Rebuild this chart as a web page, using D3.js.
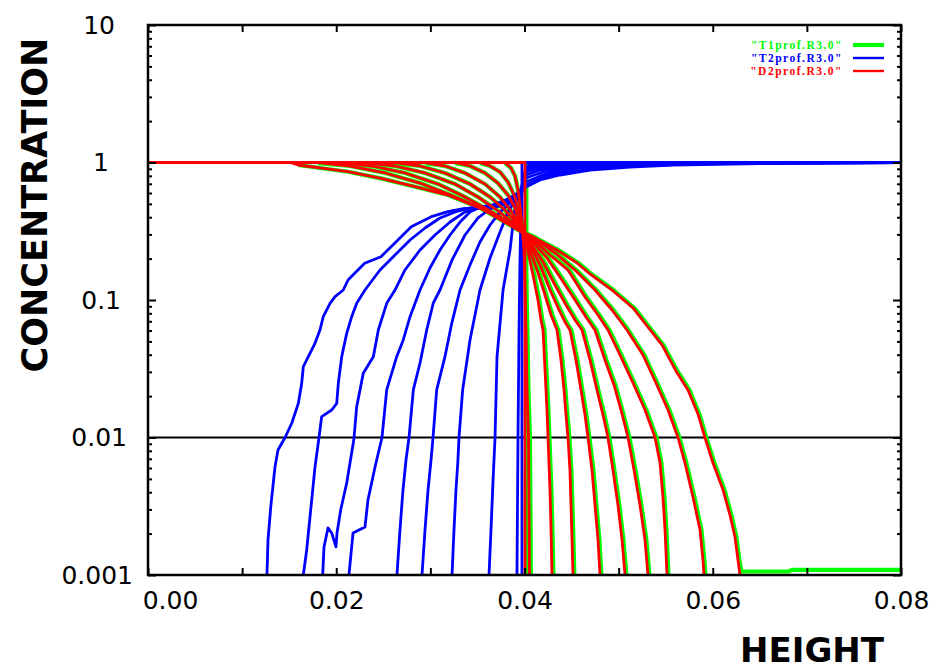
<!DOCTYPE html>
<html><head><meta charset="utf-8">
<script src="https://cdn.jsdelivr.net/npm/d3@7"></script>
<style>body{margin:0;background:#fff}svg{display:block}</style>
</head><body><svg id="c" width="945" height="666"></svg>
<script>
const heightTicks = [0, 0.02, 0.04, 0.06, 0.08];
const heightMinorTicks = [0.01, 0.03, 0.05, 0.07];
const concTicks = [0.001, 0.01, 0.1, 1, 10];
const concTickLabels = ["0.001", "0.01", "0.1", "1", "10"];
const referenceLevel = 0.01;
const seriesNames = ['"T1prof.R3.0"', '"T2prof.R3.0"', '"D2prof.R3.0"'];

// T2 (blue) profiles
const t2Profiles = [
[[0.03973,0.001],[0.03973,1],[0.08,1]],
[[0.01264,0.001],[0.01275,0.0018],[0.01304,0.00312],[0.01349,0.0061],[0.01381,0.00811],[0.01456,0.01],[0.01527,0.01269],[0.01597,0.0177],[0.01633,0.0248],[0.0165,0.0327],[0.01703,0.0387],[0.01774,0.0484],[0.01827,0.0605],[0.01862,0.0756],[0.01934,0.0946],[0.01987,0.1057],[0.02075,0.1182],[0.02125,0.1398],[0.02302,0.1849],[0.02475,0.2065],[0.02621,0.2585],[0.02797,0.3413],[0.0301,0.4035],[0.03187,0.4386],[0.03365,0.4643],[0.03506,0.4643],[0.03687,0.491],[0.03846,0.552],[0.03963,0.62],[0.04016,0.663],[0.04165,0.746],[0.04377,0.811],[0.04696,0.882],[0.05121,0.927],[0.05578,0.959],[0.06502,0.983],[0.08,1]],
[[0.0165,0.001],[0.01686,0.00152],[0.01739,0.00351],[0.01774,0.0061],[0.01817,0.01],[0.01845,0.01417],[0.01952,0.01585],[0.02005,0.0177],[0.02022,0.0248],[0.02058,0.0387],[0.02111,0.0572],[0.02164,0.0756],[0.02217,0.0946],[0.02305,0.1182],[0.02465,0.1653],[0.02624,0.2125],[0.02784,0.273],[0.02943,0.334],[0.03102,0.395],[0.03262,0.437],[0.03421,0.467],[0.03634,0.483],[0.03825,0.543],[0.03963,0.61],[0.04016,0.686],[0.04165,0.771],[0.04377,0.839],[0.04696,0.897],[0.05121,0.943],[0.05578,0.967],[0.06502,1],[0.08,1]],
[[0.01856,0.001],[0.0187,0.0016],[0.01912,0.0022],[0.01952,0.00202],[0.01997,0.0016],[0.02008,0.00202],[0.02047,0.00297],[0.02111,0.00467],[0.02181,0.00912],[0.02189,0.01],[0.02217,0.0167],[0.02287,0.0293],[0.02394,0.0387],[0.02447,0.0605],[0.02536,0.0946],[0.02624,0.1182],[0.0273,0.1653],[0.0289,0.231],[0.03049,0.297],[0.03209,0.369],[0.03368,0.437],[0.03527,0.467],[0.0374,0.483],[0.03867,0.543],[0.03963,0.6],[0.04016,0.721],[0.04165,0.798],[0.04377,0.868],[0.04696,0.912],[0.05227,0.959],[0.05865,0.983],[0.08,1]],
[[0.02135,0.001],[0.02178,0.00202],[0.02305,0.00223],[0.02337,0.00351],[0.02412,0.0061],[0.02486,0.01],[0.02536,0.0222],[0.02642,0.0387],[0.02712,0.0512],[0.02784,0.0756],[0.0289,0.1182],[0.02996,0.171],[0.03102,0.231],[0.03209,0.297],[0.03315,0.369],[0.03421,0.437],[0.03527,0.475],[0.03687,0.491],[0.03846,0.534],[0.03963,0.59],[0.04016,0.771],[0.04165,0.839],[0.04377,0.897],[0.04802,0.943],[0.05333,0.975],[0.06077,1],[0.08,1]],
[[0.02645,0.001],[0.02677,0.00213],[0.02709,0.00415],[0.02741,0.00686],[0.02773,0.01],[0.02819,0.0222],[0.0289,0.0348],[0.02961,0.0605],[0.03031,0.0951],[0.03102,0.1182],[0.0323,0.195],[0.03368,0.297],[0.03506,0.395],[0.03634,0.459],[0.03793,0.499],[0.03963,0.58],[0.04016,0.811],[0.04165,0.882],[0.04377,0.927],[0.04802,0.967],[0.05227,0.983],[0.08,1]],
[[0.02911,0.001],[0.02943,0.00213],[0.02975,0.00415],[0.03007,0.00686],[0.03028,0.01],[0.03067,0.0222],[0.03155,0.0387],[0.03227,0.0677],[0.03315,0.1182],[0.03421,0.1797],[0.03527,0.264],[0.03634,0.351],[0.0374,0.437],[0.03846,0.508],[0.03963,0.571],[0.04016,0.853],[0.04165,0.912],[0.04483,0.959],[0.04908,0.983],[0.08,1]],
[[0.0323,0.001],[0.03251,0.00213],[0.03272,0.00415],[0.03293,0.00686],[0.03304,0.01],[0.03343,0.0222],[0.03421,0.0512],[0.03527,0.1182],[0.03634,0.202],[0.0374,0.312],[0.03825,0.437],[0.03899,0.534],[0.03963,0.59],[0.04016,0.882],[0.04165,0.943],[0.04483,0.975],[0.05015,1],[0.08,1]],
[[0.03623,0.001],[0.03644,0.00213],[0.03666,0.00491],[0.03687,0.01],[0.03708,0.0385],[0.03772,0.1182],[0.03846,0.231],[0.03889,0.415],[0.0392,0.561],[0.03963,0.642],[0.04016,0.912],[0.04165,0.959],[0.04377,0.983],[0.08,1]],
[[0.0392,0.001],[0.03931,0.01],[0.03942,0.0605],[0.03952,0.195],[0.03963,0.451],[0.03973,0.652],[0.04016,0.943],[0.04165,0.975],[0.04377,1],[0.08,1]]
];

// D2 (red) profiles
const d2Profiles = [
[[0,1],[0.04005,1],[0.04005,0.001]],
[[0,1],[0.03793,1],[0.03857,0.912],[0.03899,0.798],[0.03931,0.631],[0.03952,0.491],[0.03973,0.351],[0.03995,0.231],[0.04005,0.1182],[0.04016,0.0605],[0.04027,0.0222],[0.04043,0.01],[0.04053,0.001]],
[[0,1],[0.03527,1],[0.03634,0.943],[0.0374,0.853],[0.03825,0.721],[0.03889,0.58],[0.03931,0.467],[0.03963,0.382],[0.03995,0.302],[0.04027,0.243],[0.0409,0.152],[0.04143,0.1],[0.04175,0.0715],[0.04197,0.0605],[0.04218,0.031],[0.04239,0.01585],[0.0425,0.01],[0.04271,0.00415],[0.04282,0.00213],[0.04292,0.001]],
[[0,1],[0.03262,1],[0.03421,0.943],[0.0358,0.839],[0.03718,0.709],[0.03825,0.58],[0.03899,0.467],[0.03942,0.382],[0.03984,0.307],[0.04037,0.251],[0.04133,0.1653],[0.04218,0.1087],[0.04282,0.0778],[0.04345,0.0605],[0.04388,0.0366],[0.0442,0.0222],[0.04441,0.01458],[0.04462,0.01],[0.04483,0.0058],[0.04494,0.00323],[0.04505,0.0018],[0.04515,0.001]],
[[0,1],[0.02943,1],[0.03155,0.943],[0.03368,0.839],[0.0358,0.698],[0.0374,0.561],[0.03857,0.444],[0.03931,0.369],[0.03984,0.312],[0.04048,0.26],[0.04165,0.1797],[0.04271,0.1182],[0.04367,0.0846],[0.0443,0.0692],[0.04483,0.0605],[0.04547,0.0366],[0.046,0.0222],[0.04643,0.01458],[0.04675,0.01],[0.04717,0.0058],[0.04749,0.00323],[0.04781,0.0018],[0.04802,0.001]],
[[0,1],[0.02624,1],[0.0289,0.943],[0.03155,0.839],[0.03421,0.698],[0.03634,0.561],[0.03793,0.451],[0.03899,0.3755],[0.03973,0.312],[0.04058,0.264],[0.04197,0.189],[0.04324,0.1285],[0.04441,0.092],[0.04537,0.0715],[0.04611,0.0605],[0.04696,0.0366],[0.0477,0.0222],[0.04834,0.01458],[0.04887,0.01],[0.0494,0.0058],[0.04993,0.00323],[0.05036,0.0018],[0.05068,0.001]],
[[0,1],[0.02305,1],[0.02624,0.943],[0.02943,0.839],[0.03262,0.698],[0.03506,0.561],[0.03708,0.451],[0.03857,0.3755],[0.03973,0.312],[0.04069,0.273],[0.04239,0.202],[0.04398,0.1398],[0.04537,0.1],[0.04653,0.0752],[0.04749,0.0605],[0.04855,0.0366],[0.04951,0.0241],[0.05025,0.01585],[0.051,0.01],[0.05164,0.0058],[0.05227,0.00323],[0.0528,0.0018],[0.05312,0.001]],
[[0,1],[0.0204,1],[0.0238,0.943],[0.0273,0.839],[0.03081,0.698],[0.03347,0.571],[0.0358,0.467],[0.03793,0.382],[0.03973,0.312],[0.0408,0.282],[0.04271,0.2125],[0.04462,0.1653],[0.04643,0.1051],[0.04781,0.0778],[0.04887,0.0605],[0.05015,0.0398],[0.05153,0.0249],[0.05281,0.01585],[0.05387,0.01],[0.0544,0.00652],[0.05471,0.00369],[0.05493,0.00213],[0.05514,0.001]],
[[0,1],[0.01806,1],[0.02146,0.943],[0.02518,0.839],[0.0289,0.709],[0.03187,0.59],[0.03463,0.491],[0.0374,0.395],[0.03963,0.318],[0.0409,0.287],[0.04324,0.2197],[0.04537,0.1653],[0.04749,0.1182],[0.0493,0.0846],[0.05089,0.0605],[0.05259,0.0398],[0.05397,0.0249],[0.05525,0.01585],[0.05631,0.01],[0.05705,0.00652],[0.0579,0.00369],[0.05865,0.00213],[0.05896,0.00129],[0.05907,0.001]],
[[0,1],[0.01509,1],[0.01594,0.959],[0.02125,0.857],[0.02475,0.767],[0.02837,0.667],[0.03187,0.58],[0.03538,0.464],[0.0375,0.382],[0.03963,0.314],[0.0409,0.287],[0.04345,0.231],[0.04558,0.186],[0.04696,0.1546],[0.0493,0.1182],[0.05153,0.0875],[0.05302,0.0647],[0.05461,0.0471],[0.05609,0.0305],[0.05737,0.0222],[0.05843,0.01483],[0.05917,0.01],[0.06003,0.00652],[0.0611,0.00415],[0.06183,0.00273],[0.06236,0.00189],[0.06268,0.00129],[0.06289,0.001]]
];

// T1 (green) profiles
const t1Profiles = [
[[0.0402,1],[0.0402,0.001]],
[[0.03793,0.99],[0.03857,0.912],[0.03899,0.798],[0.03931,0.631],[0.03952,0.491],[0.03973,0.351],[0.0401,0.231],[0.0402,0.1182],[0.04031,0.0605],[0.04042,0.0222],[0.04058,0.01],[0.04068,0.001]],
[[0.03527,0.99],[0.03634,0.943],[0.0374,0.853],[0.03825,0.721],[0.03889,0.58],[0.03931,0.467],[0.03963,0.382],[0.03995,0.302],[0.04042,0.243],[0.04105,0.152],[0.04158,0.1],[0.0419,0.0715],[0.04212,0.0605],[0.04233,0.031],[0.04254,0.01585],[0.04265,0.01],[0.04286,0.00415],[0.04297,0.00213],[0.04307,0.001]],
[[0.03262,0.99],[0.03421,0.943],[0.0358,0.839],[0.03718,0.709],[0.03825,0.58],[0.03899,0.467],[0.03942,0.382],[0.03984,0.307],[0.04052,0.251],[0.04148,0.1653],[0.04233,0.1087],[0.04297,0.0778],[0.0436,0.0605],[0.04403,0.0366],[0.04435,0.0222],[0.04456,0.01458],[0.04477,0.01],[0.04498,0.0058],[0.04509,0.00323],[0.0452,0.0018],[0.0453,0.001]],
[[0.02943,0.99],[0.03155,0.943],[0.03368,0.839],[0.0358,0.698],[0.0374,0.561],[0.03857,0.444],[0.03931,0.369],[0.03984,0.312],[0.04063,0.26],[0.0418,0.1797],[0.04286,0.1182],[0.04382,0.0846],[0.04445,0.0692],[0.04498,0.0605],[0.04562,0.0366],[0.04615,0.0222],[0.04658,0.01458],[0.0469,0.01],[0.04732,0.0058],[0.04764,0.00323],[0.04796,0.0018],[0.04817,0.001]],
[[0.02624,0.99],[0.0289,0.943],[0.03155,0.839],[0.03421,0.698],[0.03634,0.561],[0.03793,0.451],[0.03899,0.3755],[0.03973,0.312],[0.04073,0.264],[0.04212,0.189],[0.04339,0.1285],[0.04456,0.092],[0.04552,0.0715],[0.04626,0.0605],[0.04711,0.0366],[0.04785,0.0222],[0.04849,0.01458],[0.04902,0.01],[0.04955,0.0058],[0.05008,0.00323],[0.05051,0.0018],[0.05083,0.001]],
[[0.02305,0.99],[0.02624,0.943],[0.02943,0.839],[0.03262,0.698],[0.03506,0.561],[0.03708,0.451],[0.03857,0.3755],[0.03973,0.312],[0.04084,0.273],[0.04254,0.202],[0.04413,0.1398],[0.04552,0.1],[0.04668,0.0752],[0.04764,0.0605],[0.0487,0.0366],[0.04966,0.0241],[0.0504,0.01585],[0.05115,0.01],[0.05179,0.0058],[0.05242,0.00323],[0.05295,0.0018],[0.05327,0.001]],
[[0.0204,0.99],[0.0238,0.943],[0.0273,0.839],[0.03081,0.698],[0.03347,0.571],[0.0358,0.467],[0.03793,0.382],[0.03973,0.312],[0.04095,0.282],[0.04286,0.2125],[0.04477,0.1653],[0.04658,0.1051],[0.04796,0.0778],[0.04902,0.0605],[0.0503,0.0398],[0.05168,0.0249],[0.05296,0.01585],[0.05402,0.01],[0.05455,0.00652],[0.05486,0.00369],[0.05508,0.00213],[0.05529,0.001]],
[[0.01806,0.99],[0.02146,0.943],[0.02518,0.839],[0.0289,0.709],[0.03187,0.59],[0.03463,0.491],[0.0374,0.395],[0.03963,0.318],[0.04105,0.287],[0.04339,0.2197],[0.04552,0.1653],[0.04764,0.1182],[0.04945,0.0846],[0.05104,0.0605],[0.05274,0.0398],[0.05412,0.0249],[0.0554,0.01585],[0.05646,0.01],[0.0572,0.00652],[0.05805,0.00369],[0.0588,0.00213],[0.05911,0.00129],[0.05922,0.001]],
[[0.01594,0.959],[0.02125,0.857],[0.02475,0.767],[0.02837,0.667],[0.03187,0.58],[0.03538,0.464],[0.0375,0.382],[0.03963,0.314],[0.04105,0.287],[0.0436,0.231],[0.04573,0.186],[0.04711,0.1546],[0.04945,0.1182],[0.05168,0.0875],[0.05317,0.0647],[0.05476,0.0471],[0.05624,0.0305],[0.05752,0.0222],[0.05858,0.01483],[0.05932,0.01],[0.06018,0.00652],[0.06125,0.00415],[0.06198,0.00273],[0.06251,0.00189],[0.06283,0.00129],[0.06305,0.00106],[0.068,0.00106],[0.0685,0.00109],[0.08,0.00109]]
];

const L = 148, R = 901, T = 25, B = 575;
const svg = d3.select("#c");
const x = d3.scaleLinear().domain([0, 0.08]).range([L, R]);
const y = d3.scaleLog().domain([0.001, 10]).range([B, T]);

svg.append("defs").append("clipPath").attr("id", "clip")
  .append("rect").attr("x", L).attr("y", T).attr("width", R - L).attr("height", B - T);

const line = d3.line().x(d => x(d[0])).y(d => y(d[1]));

// reference line at 0.01
svg.append("line").attr("x1", L).attr("x2", R)
  .attr("y1", y(referenceLevel)).attr("y2", y(referenceLevel))
  .attr("stroke", "#000").attr("stroke-width", 1.8);

const plot = svg.append("g").attr("clip-path", "url(#clip)");
const series = [
  {data: t1Profiles, color: "#00ff00", w: 4.2},
  {data: t2Profiles, color: "#0000ff", w: 2.8},
  {data: d2Profiles, color: "#ff0000", w: 2.8}
];
series.forEach(s => {
  plot.append("g").selectAll("path").data(s.data).join("path")
    .attr("d", line).attr("fill", "none")
    .attr("stroke", s.color).attr("stroke-width", s.w)
    .attr("stroke-linejoin", "round").attr("stroke-linecap", "butt");
});

// axes
const tickFont = "DejaVu Sans, sans-serif";
const gxb = svg.append("g").attr("transform", `translate(0,${B})`)
  .call(d3.axisBottom(x).tickValues(heightTicks).tickFormat(d3.format(".2f")).tickSize(-7).tickPadding(16));
// first label sits to the right of the corner, as in the original
gxb.selectAll(".tick text").filter(d => d === heightTicks[0]).attr("dx", 22);
svg.append("g").attr("transform", `translate(0,${B})`)
  .call(d3.axisBottom(x).tickValues(heightMinorTicks).tickFormat("").tickSize(-7));
svg.append("g").attr("transform", `translate(0,${T})`)
  .call(d3.axisTop(x).tickValues(heightTicks.concat(heightMinorTicks)).tickFormat("").tickSize(-7));

const gyl = svg.append("g").attr("transform", `translate(${L},0)`)
  .call(d3.axisLeft(y).tickValues(concTicks).tickFormat((d, i) => concTickLabels[i]).tickSize(-8).tickPadding(0));
gyl.selectAll(".tick text").attr("x", (d, i) => -(L - (103 + 6 * concTickLabels[i].length)));
const minor = [];
concTicks.slice(0, -1).forEach(d => { for (let k = 2; k <= 9; k++) minor.push(d * k); });
svg.append("g").attr("transform", `translate(${L},0)`)
  .call(d3.axisLeft(y).tickValues(minor).tickFormat("").tickSize(-4));
svg.append("g").attr("transform", `translate(${R},0)`)
  .call(d3.axisRight(y).tickValues(concTicks).tickFormat("").tickSize(-8));
svg.append("g").attr("transform", `translate(${R},0)`)
  .call(d3.axisRight(y).tickValues(minor).tickFormat("").tickSize(-4));

svg.selectAll(".domain").remove();
svg.selectAll(".tick line").attr("stroke", "#000").attr("stroke-width", 2);
svg.selectAll(".tick text").attr("font-family", tickFont).attr("font-size", 25).attr("fill", "#000");

// frame
svg.append("rect").attr("x", L).attr("y", T).attr("width", R - L).attr("height", B - T)
  .attr("fill", "none").attr("stroke", "#000").attr("stroke-width", 2.5);

// axis titles
svg.append("text").attr("x", 812).attr("y", 662).attr("text-anchor", "middle")
  .attr("font-family", tickFont).attr("font-weight", "bold").attr("font-size", 34).text("HEIGHT");
svg.append("text").attr("transform", "translate(47,205) rotate(-90)").attr("text-anchor", "middle")
  .attr("font-family", tickFont).attr("font-weight", "bold").attr("font-size", 35).text("CONCENTRATION");

// legend
const legColors = ["#00ff00", "#0000ff", "#ff0000"];
const legW = [4.2, 2.4, 2.4];
const leg = svg.append("g");
seriesNames.forEach((n, i) => {
  const yy = 45 + i * 13;
  leg.append("text").attr("x", 843).attr("y", yy + 4).attr("text-anchor", "end")
    .attr("font-family", "Liberation Serif, serif").attr("font-size", 11.5).attr("font-weight", "bold")
    .attr("letter-spacing", 1.5)
    .attr("fill", legColors[i]).text(n);
  leg.append("line").attr("x1", 853).attr("x2", 884).attr("y1", yy).attr("y2", yy)
    .attr("stroke", legColors[i]).attr("stroke-width", legW[i]);
});
</script></body></html>
